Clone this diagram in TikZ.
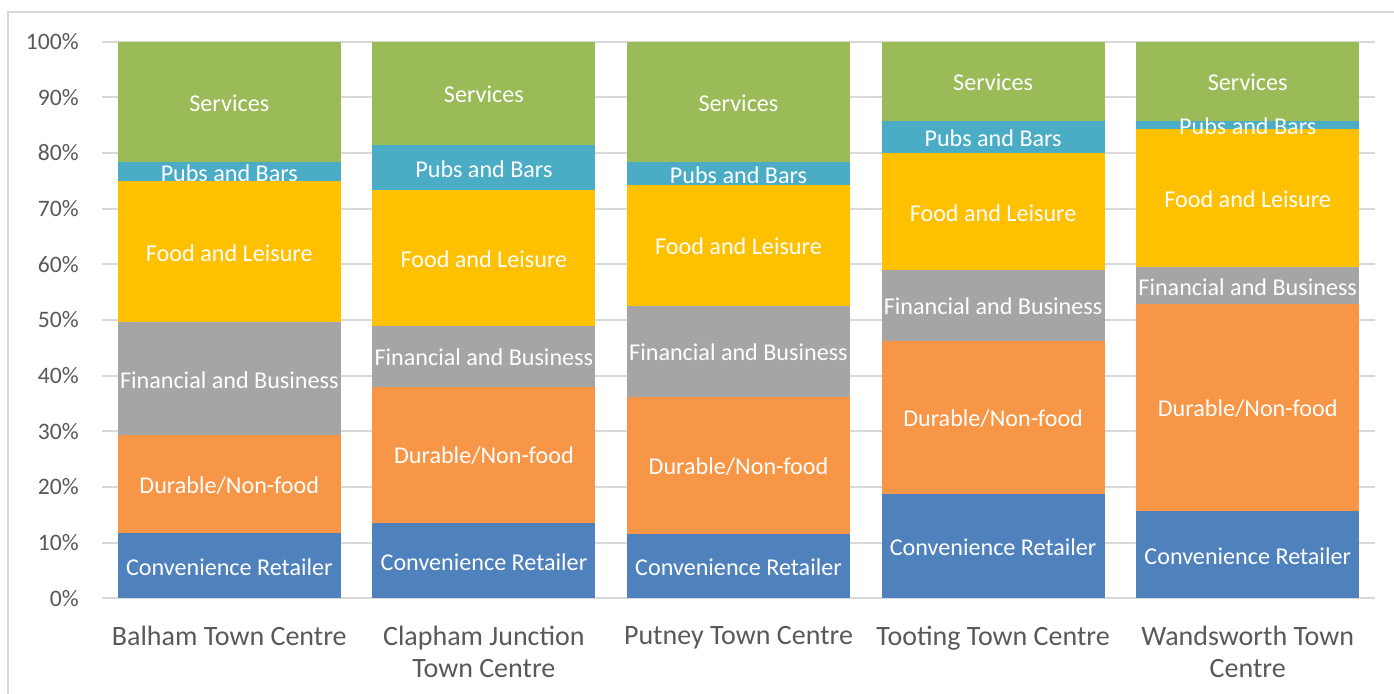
\documentclass[tikz,border=0pt]{standalone}
\usepackage{fontspec}
\setmainfont{Carlito}
\usepackage{tikz}
\usetikzlibrary{calc}
\definecolor{conv}{HTML}{4F81BD}
\definecolor{dur}{HTML}{F79646}
\definecolor{fin}{HTML}{A5A5A5}
\definecolor{food}{HTML}{FFC000}
\definecolor{pubs}{HTML}{4BACC6}
\definecolor{serv}{HTML}{9BBB59}
\definecolor{axisgray}{HTML}{595959}
\definecolor{gridgray}{HTML}{D9D9D9}
\tikzset{seglab/.style={text=white, inner sep=0pt, font=\fontsize{18.1}{20}\selectfont}}
\tikzset{ticklab/.style={text=axisgray, anchor=east, inner sep=0pt, font=\fontsize{17.7}{20}\selectfont}}
\tikzset{catlab/.style={text=axisgray, align=center, anchor=north, inner sep=0pt, font=\fontsize{21}{24}\selectfont}}
\tikzset{gridline/.style={gridgray, line width=1.5}}

\begin{document}
\begin{tikzpicture}[x=0.75pt,y=0.75pt]
  \clip (0,0) rectangle (1394,693);
  \fill[white] (0,0) rectangle (1394,693);
  \draw[gridline] (8,-10) -- (8,681) -- (1410,681);
  \begin{scope}[shift={(0,94.7)}, y=4.1745pt]
    \foreach \p in {0,10,...,100} {
      \draw[gridline] (102,\p) -- (1375,\p);
      \node[ticklab] (t\p) at (79,\p) {\p\%};
    }
    \foreach \i/\a/\b/\c/\d/\e/\lab in {
      0/11.7/29.3/49.6/74.9/78.4/{Balham Town Centre},
      1/13.5/38.0/49.0/73.3/81.4/{Clapham Junction\\Town Centre},
      2/11.6/36.2/52.6/74.3/78.3/{Putney Town Centre},
      3/18.7/46.3/58.9/80.0/85.7/{Tooting Town Centre},
      4/15.6/52.8/59.5/84.3/85.8/{Wandsworth Town\\Centre}%
    } {
      \pgfmathsetmacro{\xl}{117.8+254.6*\i}
      \pgfmathsetmacro{\xr}{\xl+223}
      \pgfmathsetmacro{\xm}{\xl+111.5}
      \foreach \lo/\hi/\col in {0/\a/conv, \a/\b/dur, \b/\c/fin, \c/\d/food, \d/\e/pubs, \e/100/serv} {
        \fill[\col] (\xl,\lo) rectangle (\xr,\hi);
      }
      \foreach \lo/\hi/\txt/\k in {
        0/\a/{Convenience Retailer}/1,
        \a/\b/{Durable/Non-food}/2,
        \b/\c/{Financial and Business}/3,
        \c/\d/{Food and Leisure}/4,
        \d/\e/{Pubs and Bars}/5,
        \e/100/{Services}/6%
      } {
        \node[seglab] (b\i-\k) at (\xm,{(\lo+\hi)/2-0.2}) {\txt};
      }
      \node[catlab] (c\i) at (\xm,-5.0) {\lab};
    }
  \end{scope}
\end{tikzpicture}
\end{document}
